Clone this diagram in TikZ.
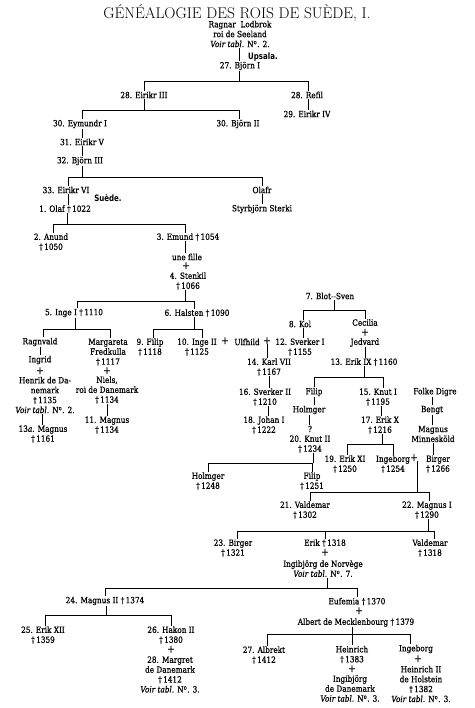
\documentclass[tikz,border=0pt]{standalone}
\usepackage{fontspec}
\newfontfamily\bodyfont{DejaVu Serif}[FakeStretch=0.86,FakeBold=0.6]
\newfontfamily\placefont{DejaVu Sans}[FakeStretch=0.8]
\usetikzlibrary{calc}
\newcommand{\dg}{\textdagger\,}
\newcommand{\vt}[1]{\textit{Voir tabl.} N\textsuperscript{o}. #1.}
\begin{document}
\begin{tikzpicture}[x=1pt,y=-1pt,
  every node/.style={inner sep=0.4pt,align=center,font=\bodyfont\fontsize{8.5}{9.9}\selectfont},
  pl/.style={font=\bodyfont\fontsize{10.5}{10.5}\selectfont,inner sep=0pt,text height=4pt,text depth=0pt},
  place/.style={font=\placefont\bfseries\fontsize{8.8}{10}\selectfont},
  ln/.style={line width=0.6pt}]
\useasboundingbox (0,0) rectangle (474,708);
\fill[white] (0,0) rectangle (474,708);
% title
\node[font=\fontsize{15.5}{16}\selectfont] (title) at (237,13) {GÉNÉALOGIE DES ROIS DE SUÈDE, I.};
\node (ragnar) at (240,34) {Ragnar\ \ Lodbrok\\roi de Seeland\\\vt{2}};
\node[place] (upsala) at (263,57) {Upsala.};
\node (b27) at (240,66) {27. Björn I};
\node (e28) at (144,95) {28. Eirikr III};
\node (r28) at (307,95) {28. Refil};
\node (e29) at (307,114) {29. Eirikr IV};
\node (e30) at (80,124) {30. Eymundr I};
\node (bj30) at (238,124) {30. Björn II};
\node (e31) at (82,142) {31. Eirikr V};
\node (bj32) at (80,161) {32. Björn III};
\node (e33) at (66,190) {33. Eirikr VI};
\node (olafr) at (262,190) {Olafr};
\node (styr) at (262,209) {Styrbjörn Sterki};
\node[place] (suede) at (108,198) {Suède.};
\node (olaf1) at (65,209) {1. Olaf \dg 1022};
\node (anund) at (51,242) {2. Anund\\\dg 1050};
\node (emund) at (188,237) {3. Emund \dg 1054};
\node (fille) at (187,257) {une fille};
\node[pl] (p1) at (186,267) {+};
\node (stenkil) at (188,281) {4. Stenkil\\\dg 1066};
\node (inge5) at (74,313) {5. Inge I \dg 1110};
\node (hals6) at (197,313) {6. Halsten \dg 1090};
\node (ragn) at (40,342) {Ragnvald};
\node (ingrid) at (40,360) {Ingrid};
\node[pl] (p2) at (40,372) {+};
\node (henrik) at (45,395) {Henrik de Da-\\nemark\\\dg 1135\\\vt{2}};
\node (mag13a) at (43,434) {13\textit{a}. Magnus\\\dg 1161};
\node (marg) at (108,352) {Margareta\\Fredkulla\\\dg 1117};
\node[pl] (p3) at (107,372) {+};
\node (niels) at (107,390) {Niels,\\roi de Danemark\\\dg 1134};
\node (mag11) at (107,425) {11. Magnus\\\dg 1134};
\node (filip9) at (150,347) {9. Filip\\\dg 1118};
\node (inge10) at (197,347) {10. Inge II\\\dg 1125};
\node[pl] (p4) at (225,342) {+};
\node (ulf) at (247,342) {Ulfhild};
\node[pl] (p5) at (267,342) {+};
\node (sv12) at (300,347) {12. Sverker I\\\dg 1155};
\node (karl14) at (269,367) {14. Karl VII\\\dg 1167};
\node (blot) at (330,296) {7. Blot--Sven};
\node (kol) at (300,324) {8. Kol};
\node (cec) at (365,322.5) {Cecilia};
\node[pl] (p6) at (365,333.5) {+};
\node (jed) at (365,342.5) {Jedvard};
\node (erik13) at (364,362) {13. Erik IX \dg 1160};
\node (sv16) at (265,397) {16. Sverker II\\\dg 1210};
\node (jo18) at (264,425) {18. Johan I\\\dg 1222};
\node (filipB) at (314,392) {Filip};
\node (holm) at (309,410) {Holmger};
\node (q) at (310,429) {?};
\node (knut20) at (310,444) {20. Knut II\\\dg 1234};
\node (holm2) at (208,481) {Holmger\\\dg 1248};
\node (filip2) at (312,481) {Filip\\\dg 1251};
\node (knut15) at (378,397) {15. Knut I\\\dg 1195};
\node (erik17) at (380,425) {17. Erik X\\\dg 1216};
\node (erik19) at (345,464) {19. Erik XI\\\dg 1250};
\node (ingb) at (393,464) {Ingeborg\\\dg 1254};
\node[pl] (p7) at (414,459) {+};
\node (folke) at (435,392) {Folke Digre};
\node (bengt) at (432,410) {Bengt};
\node (magM) at (433,434) {Magnus\\Minnesköld};
\node (birger) at (438,464) {Birger\\\dg 1266};
\node (vald21) at (305,510) {21. Valdemar\\\dg 1302};
\node (mag22) at (427,510) {22. Magnus I\\\dg 1290};
\node (birg23) at (233,548) {23. Birger\\\dg 1321};
\node (erik) at (325,543) {Erik \dg 1318};
\node[pl] (p8) at (325,553.5) {+};
\node (ingi) at (323,568.5) {Ingibjörg de Norvège\\\vt{7}};
\node (vald) at (430,548) {Valdemar\\\dg 1318};
\node (mag24) at (105,601) {24. Magnus II \dg 1374};
\node (eufe) at (357,601.5) {Eufemia \dg 1370};
\node[pl] (p9) at (359,612) {+};
\node (albert) at (356,622.5) {Albert de Mecklenbourg \dg 1379};
\node (erik25) at (43,635) {25. Erik XII\\\dg 1359};
\node (hakon) at (171,635) {26. Hakon II\\\dg 1380};
\node[pl] (p10) at (171,650.5) {+};
\node (margret) at (170,674.5) {28. Margret\\de Danemark\\\dg 1412\\\vt{3}};
\node (albrekt) at (264,655) {27. Albrekt\\\dg 1412};
\node (heinrich) at (352,654.5) {Heinrich\\\dg 1383};
\node[pl] (p11) at (352,670) {+};
\node (ingibD) at (350,688.5) {Ingibjörg\\de Danemark\\\vt{3}};
\node (ingeb2) at (416,649) {Ingeborg};
\node[pl] (p12) at (418,660) {+};
\node (hein2) at (421,684) {Heinrich II\\de Holstein\\\dg 1382\\\vt{3}};
% bar levels
\coordinate (y81) at (0,81);
\coordinate (y110) at (0,110);
\coordinate (y177) at (0,177);
\coordinate (y224) at (0,224);
\coordinate (y301) at (0,301);
\coordinate (y329) at (0,329);
\coordinate (y310) at (0,310);
\coordinate (y377) at (0,377);
\coordinate (y444) at (0,444);
\coordinate (y463) at (0,463);
\coordinate (y492) at (0,492);
\coordinate (y531) at (0,531);
\coordinate (y588) at (0,588);
\coordinate (y615) at (0,615);
\coordinate (y634) at (0,634);
\begin{scope}[ln]
% single descents
\draw ([xshift=-1pt]ragnar.south) -- ([xshift=-1pt]ragnar.south |- b27.north);
\draw ([xshift=1pt]r28.south) -- ([xshift=1pt]r28.south |- e29.north);
\draw ([xshift=2pt]e30.south) -- ([xshift=2pt]e30.south |- e31.north);
\draw (e31.south) -- (e31.south |- bj32.north);
\draw ([xshift=2pt]e33.south) -- ([xshift=2pt]e33.south |- olaf1.north);
\draw (olafr.south) -- (olafr.south |- styr.north);
\draw ([xshift=-3pt]emund.south) -- ([xshift=-3pt]emund.south |- fille.north);
\draw (ragn.south) -- (ragn.south |- ingrid.north);
\draw ([xshift=-3pt]henrik.south) -- ([xshift=-3pt]henrik.south |- mag13a.north);
\draw (niels.south) -- (niels.south |- mag11.north);
\draw ([xshift=3pt]kol.south) -- ([xshift=3pt]kol.south |- sv12.north);
\draw (p5.south) -- (p5.south |- karl14.north);
\draw (jed.south) -- (jed.south |- erik13.north);
\draw (karl14.south) -- (karl14.south |- sv16.north);
\draw ([xshift=3pt]sv16.south) -- ([xshift=3pt]sv16.south |- jo18.north);
\draw (filipB.south) -- (filipB.south |- holm.north);
\draw (holm.south) -- (holm.south |- q.north);
\draw ([xshift=3pt]knut15.south) -- ([xshift=3pt]knut15.south |- erik17.north);
\draw ([xshift=-3pt]folke.south) -- ([xshift=-3pt]folke.south |- bengt.north);
\draw (bengt.south) -- (bengt.south |- magM.north);
\draw (magM.south) -- (magM.south |- birger.north);
\draw ([xshift=4pt]ingi.south) -- ([xshift=4pt]ingi.south |- y588) -- (eufe.north |- y588) -- (eufe.north);
\draw (heinrich.north |- albert.south) -- (heinrich.north);
% families
\draw ([xshift=-1pt]b27.south) -- ([xshift=-1pt]b27.south |- y81);
\draw (e28.north) -- (e28.north |- y81) -- ([xshift=1pt]r28.north |- y81) -- ([xshift=1pt]r28.north);
\draw (e28.south) -- (e28.south |- y110);
\draw ([xshift=2pt]e30.north) -- ([xshift=2pt]e30.north |- y110) -- ([xshift=1pt]bj30.north |- y110) -- ([xshift=1pt]bj30.north);
\draw ([xshift=2pt]bj32.south) -- ([xshift=2pt]bj32.south |- y177);
\draw ([xshift=2pt]e33.north) -- ([xshift=2pt]e33.north |- y177) -- (olafr.north |- y177) -- (olafr.north);
\draw ([xshift=2pt]olaf1.south) -- ([xshift=2pt]olaf1.south |- y224);
\draw ([xshift=2pt]anund.north) -- ([xshift=2pt]anund.north |- y224) -- ([xshift=-3pt]emund.north |- y224) -- ([xshift=-3pt]emund.north);
\draw ([xshift=-3pt]stenkil.south) -- ([xshift=-3pt]stenkil.south |- y301);
\draw ([xshift=3pt]inge5.north) -- ([xshift=3pt]inge5.north |- y301) -- ([xshift=-3pt]hals6.north |- y301) -- ([xshift=-3pt]hals6.north);
\draw ([xshift=1pt]inge5.south) -- ([xshift=1pt]inge5.south |- y329);
\draw ([xshift=3pt]ragn.north) -- ([xshift=3pt]ragn.north |- y329) -- ([xshift=2pt]marg.north |- y329) -- ([xshift=2pt]marg.north);
\draw ([xshift=-3pt]hals6.south) -- ([xshift=-3pt]hals6.south |- y329);
\draw ([xshift=3pt]filip9.north) -- ([xshift=3pt]filip9.north |- y329) -- ([xshift=5pt]inge10.north |- y329) -- ([xshift=5pt]inge10.north);
\draw ([xshift=4pt]blot.south) -- ([xshift=4pt]blot.south |- y310);
\draw ([xshift=3pt]kol.north) -- ([xshift=3pt]kol.north |- y310) -- (cec.north |- y310) -- (cec.north);
\draw (erik13.south) -- (erik13.south |- y377);
\draw (filipB.north) -- (filipB.north |- y377) -- ([xshift=5pt]knut15.north |- y377) -- ([xshift=5pt]knut15.north);
\draw ([xshift=3pt]knut20.south) -- ([xshift=3pt]knut20.south |- y463);
\draw (holm2.north) -- (holm2.north |- y463) -- (filip2.north |- y463) -- (filip2.north);
\draw ([xshift=2pt]erik17.south) -- ([xshift=2pt]erik17.south |- y444);
\draw ([xshift=2pt]erik19.north) -- ([xshift=2pt]erik19.north |- y444) -- (ingb.north |- y444) -- (ingb.north);
\draw ([xshift=3pt]p7.south) -- ([xshift=3pt]p7.south |- y492);
\draw ([xshift=5pt]vald21.north) -- ([xshift=5pt]vald21.north |- y492) -- ([xshift=2pt]mag22.north |- y492) -- ([xshift=2pt]mag22.north);
\draw ([xshift=1pt]mag22.south) -- ([xshift=1pt]mag22.south |- y531);
\draw ([xshift=4pt]birg23.north) -- ([xshift=4pt]birg23.north |- y531) -- ([xshift=4pt]vald.north |- y531) -- ([xshift=4pt]vald.north);
\draw (erik.north) -- (erik.north |- y531);
\draw (mag24.north) -- (mag24.north |- y588) -- ([xshift=4pt]ingi.south |- y588);
\draw ([xshift=1pt]mag24.south) -- ([xshift=1pt]mag24.south |- y615);
\draw ([xshift=2pt]erik25.north) -- ([xshift=2pt]erik25.north |- y615) -- (hakon.north |- y615) -- (hakon.north);
\draw (heinrich.north |- albert.south) -- (heinrich.north |- y634);
\draw ([xshift=3pt]albrekt.north) -- ([xshift=3pt]albrekt.north |- y634) -- ([xshift=-6pt]ingeb2.north |- y634) -- ([xshift=-6pt]ingeb2.north);
\end{scope}
\end{tikzpicture}
\end{document}
